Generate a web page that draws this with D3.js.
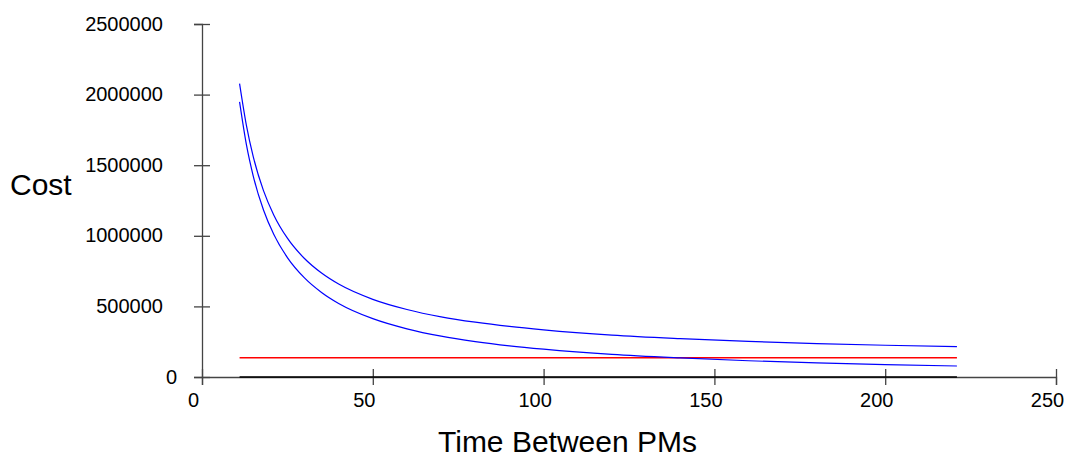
<!DOCTYPE html>
<html>
<head>
<meta charset="utf-8">
<script src="https://cdn.jsdelivr.net/npm/d3@7"></script>
<style>
  html, body { margin: 0; padding: 0; background: #fff; }
  svg { display: block; }
  text { font-family: "Liberation Sans", Arial, sans-serif; fill: #000; }
</style>
</head>
<body>
<svg id="chart" width="1065" height="457"></svg>
<script>
// ---- data ----
const timeBetweenPMs = [11, 13, 15, 18, 21, 25, 30, 35, 40, 50, 60, 70, 80, 90, 100, 120, 140, 160, 180, 200, 221];
const totalCost = [2078000, 1782000, 1560000, 1320000, 1148000, 983000, 839000, 736000, 658000, 550000, 478000, 426000, 388000, 358000, 334000, 297000, 272000, 252000, 237000, 225000, 215000];
const failureCost = [1948000, 1645000, 1423000, 1183000, 1011000, 846000, 702000, 599000, 521000, 413000, 341000, 289000, 251000, 221000, 197000, 160000, 135000, 115000, 100000, 88000, 78000];
const pmCost = [137000, 137000, 137000, 137000, 137000, 137000, 137000, 137000, 137000, 137000, 137000, 137000, 137000, 137000, 137000, 137000, 137000, 137000, 137000, 137000, 137000];
const baseCost = [0, 0, 0, 0, 0, 0, 0, 0, 0, 0, 0, 0, 0, 0, 0, 0, 0, 0, 0, 0, 0];
const xTicks = [0, 50, 100, 150, 200, 250];
const yTicks = [0, 500000, 1000000, 1500000, 2000000, 2500000];
const xTitle = "Time Between PMs";
const yTitle = "Cost";

// ---- layout ----
const svg = d3.select("#chart");
const margin = { left: 202, right: 9, top: 24, bottom: 80 };
const W = 1065, H = 457;
const x = d3.scaleLinear().domain([0, 250]).range([margin.left, W - margin.right]);
const y = d3.scaleLinear().domain([0, 2500000]).range([H - margin.bottom, margin.top]);

const axisColor = "#444";

// y axis
const gy = svg.append("g")
  .attr("transform", `translate(${margin.left},0)`)
  .call(d3.axisLeft(y).tickValues(yTicks).tickFormat(d3.format("d")).tickSize(8).tickPadding(31));
gy.select(".domain").attr("stroke", axisColor).attr("stroke-width", 1.3);
gy.selectAll(".tick line").attr("x1", 8).attr("stroke", axisColor).attr("stroke-width", 1.3);
gy.selectAll(".tick text").attr("font-size", 20).attr("font-family", "Liberation Sans, Arial, sans-serif")
  .attr("dy", "0.3em")
  .attr("x", d => d === 0 ? -25 : -39);

// x axis
const gx = svg.append("g")
  .attr("transform", `translate(0,${H - margin.bottom})`)
  .call(d3.axisBottom(x).tickValues(xTicks).tickFormat(d3.format("d")).tickSize(8));
gx.select(".domain").attr("stroke", axisColor).attr("stroke-width", 1.3);
gx.selectAll(".tick line").attr("y1", -8).attr("stroke", axisColor).attr("stroke-width", 1.3);
gx.selectAll(".tick text").attr("font-size", 20).attr("font-family", "Liberation Sans, Arial, sans-serif")
  .attr("y", 22.5).attr("dy", "0.35em").attr("x", -9);

// series
const line = d3.line().x((d, i) => x(timeBetweenPMs[i])).y(d => y(d)).curve(d3.curveMonotoneX);
const series = [
  { values: baseCost, color: "#000000", width: 1.5 },
  { values: pmCost, color: "#ff0000", width: 1.5 },
  { values: failureCost, color: "#0000ff", width: 1.2 },
  { values: totalCost, color: "#0000ff", width: 1.2 }
];
svg.append("g").selectAll("path").data(series).join("path")
  .attr("d", d => line(d.values))
  .attr("fill", "none")
  .attr("stroke", d => d.color)
  .attr("stroke-width", d => d.width);

// titles
svg.append("text").attr("x", 10).attr("y", 195).attr("font-size", 30).text(yTitle);
svg.append("text").attr("x", (432 + 703) / 2).attr("y", 452).attr("text-anchor", "middle").attr("font-size", 30).text(xTitle);
</script>
</body>
</html>
